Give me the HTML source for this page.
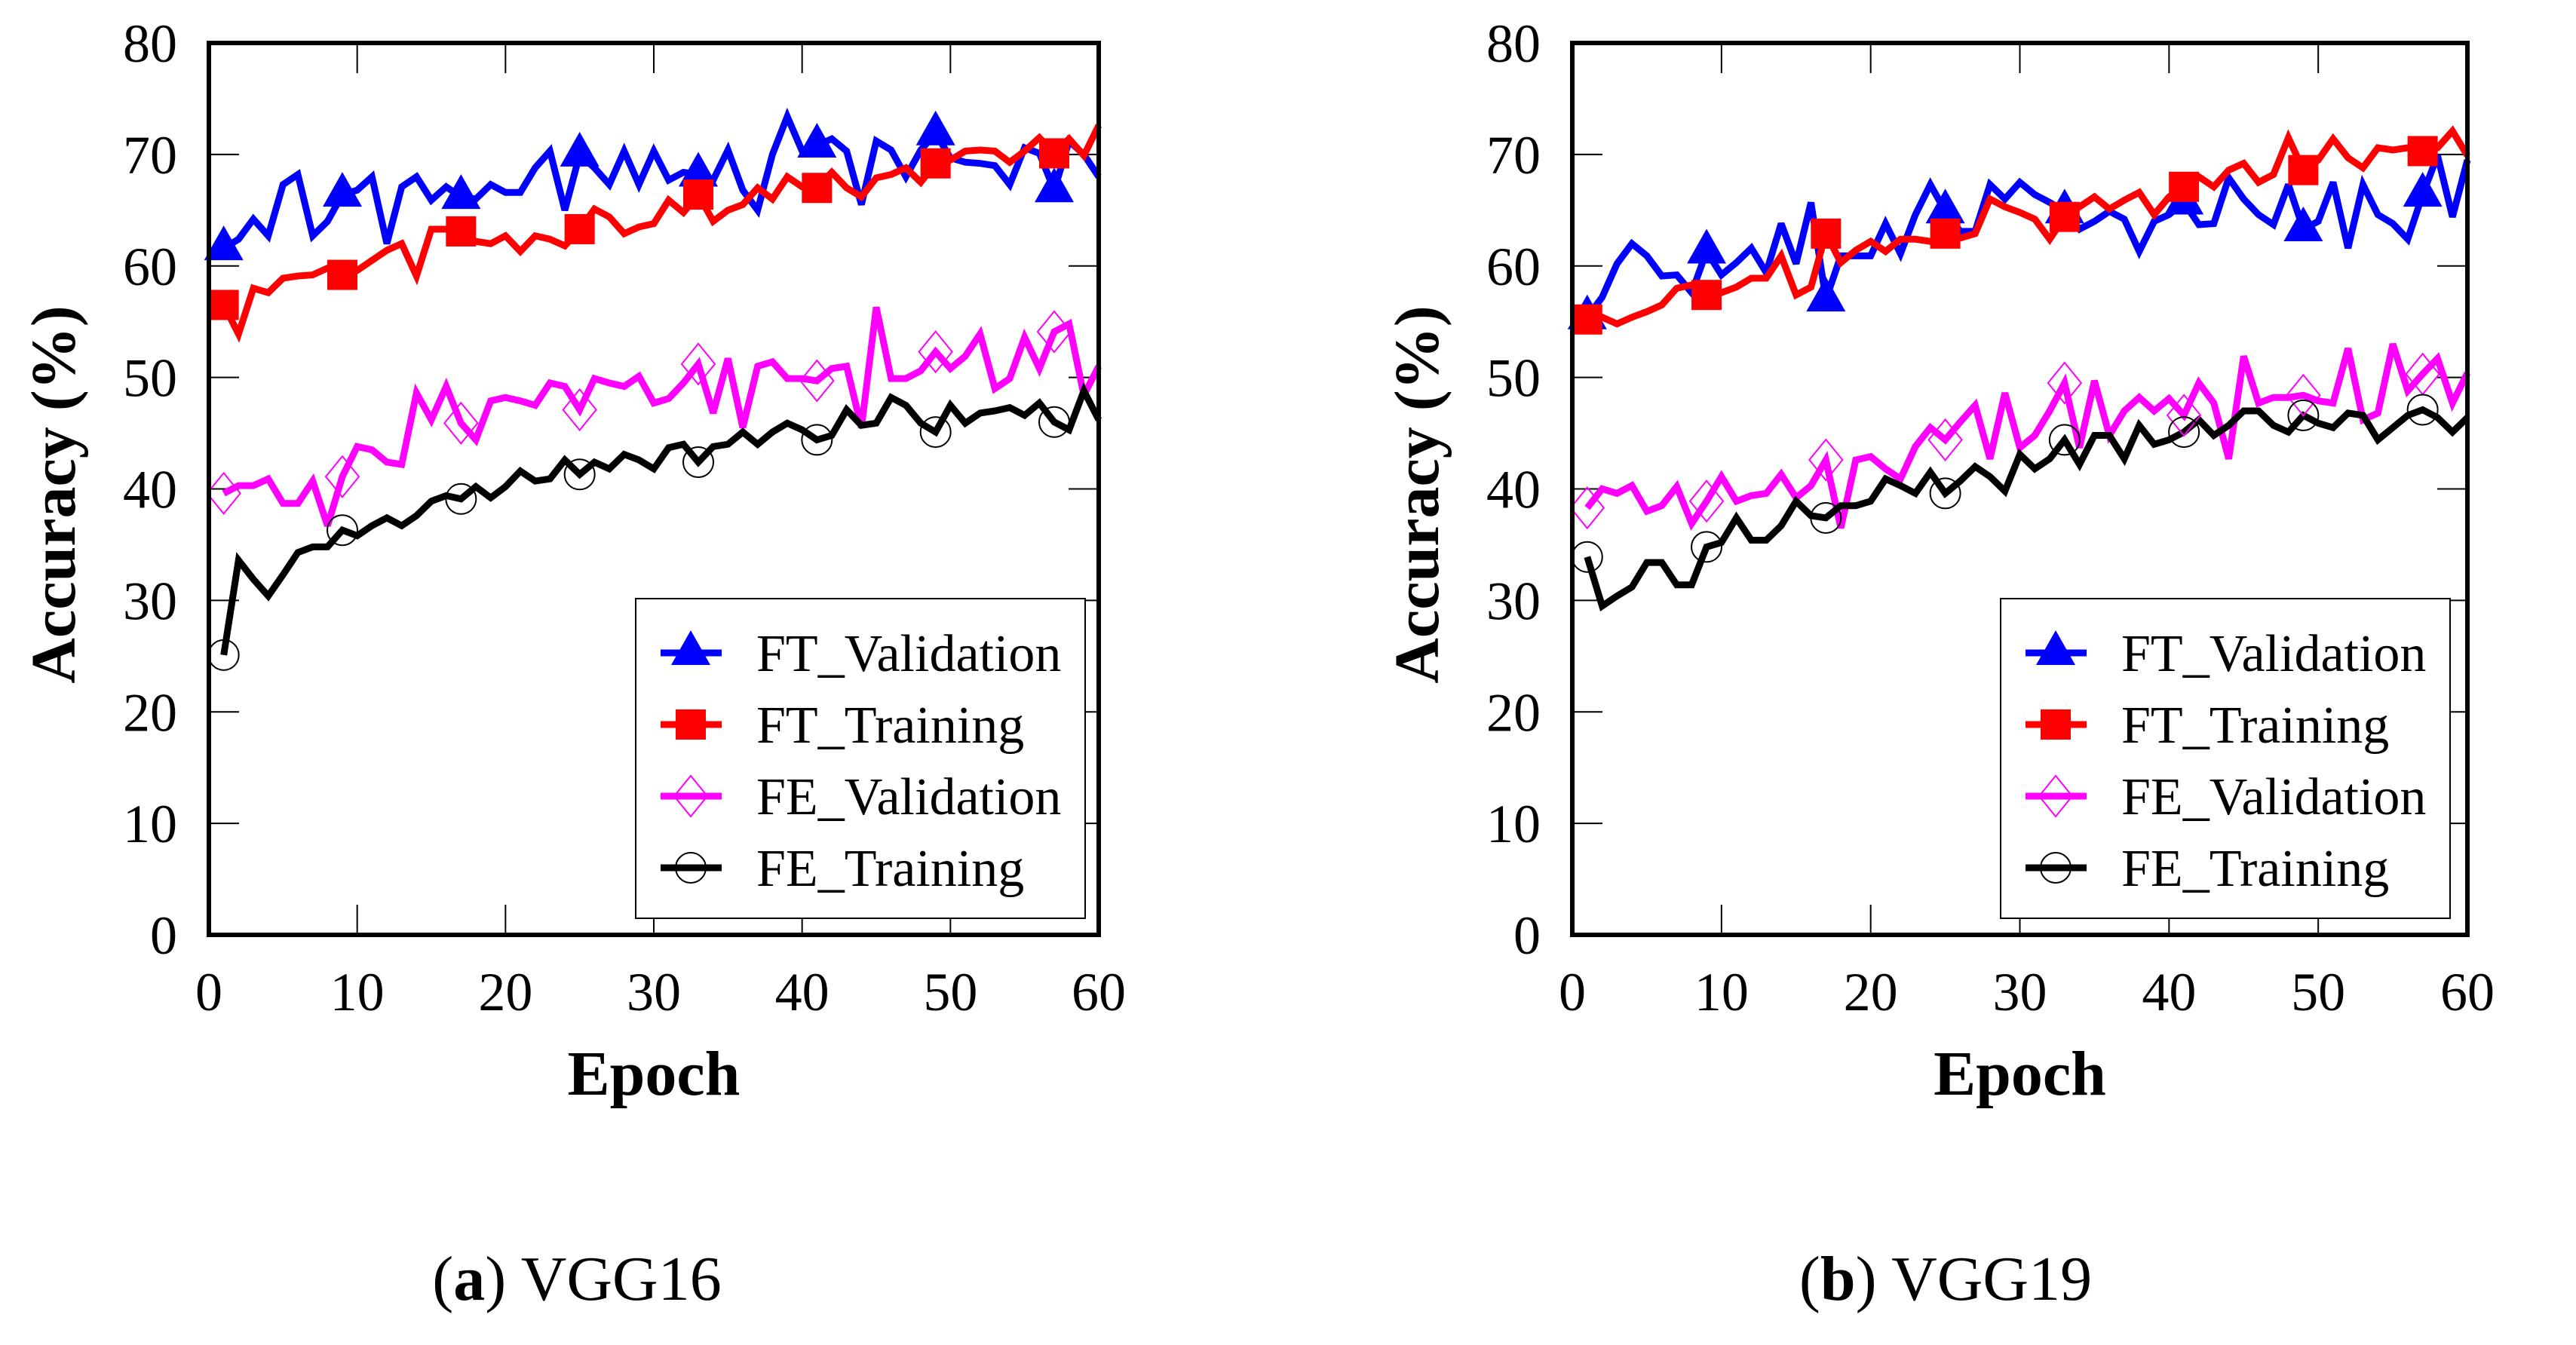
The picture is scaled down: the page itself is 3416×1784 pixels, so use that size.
<!DOCTYPE html>
<html><head><meta charset="utf-8"><style>
html,body{margin:0;padding:0;background:#fff;}
svg{display:block;font-family:"Liberation Serif",serif;}
</style></head><body>
<svg id="chart" width="3416" height="1784" viewBox="0 0 3416 1784" xmlns="http://www.w3.org/2000/svg"></svg>
<script>
const epochs = Array.from({length:60},(_,i)=>i+1);
const yTicks = [0,10,20,30,40,50,60,70,80];
const xTicks = [0,10,20,30,40,50,60];
const seriesNames = ["FT_Validation","FT_Training","FE_Validation","FE_Training"];
const markerEpochs = [1,9,17,25,33,41,49,57];

const vgg16FtVal = [61.6,62.4,64.2,62.7,67.3,68.2,62.7,64,66.4,66.8,68,62,67.1,68,65.9,67.1,66.2,66,67.3,66.6,66.6,68.8,70.3,65,70,68.8,67.3,70.3,67.3,70.3,67.7,68.4,68.2,67.7,70.4,66.8,65,70,73.4,70.3,70.8,71.4,70.3,65.5,71.2,70.4,68,70.4,71.9,69.7,69.3,69.2,69,67.3,70.6,70.1,66.8,71.2,70,68];
const vgg16FtTrain = [56.5,53.9,58,57.6,58.9,59.1,59.2,59.8,59.2,59.6,60.5,61.4,62,59.1,63.3,63.3,63.1,62.2,62,62.7,61.3,62.7,62.4,61.8,63.3,65.1,64.4,62.9,63.5,63.8,65.9,64.8,66.4,64,65,65.5,67,66,68,67.1,67,68.4,67,66.2,67.9,68.2,68.8,67.5,69.2,69.5,70.3,70.4,70.3,69.3,70.3,71.5,70.1,71.4,69.9,72.6];
const vgg16FeVal = [39.6,40.3,40.3,40.9,38.7,38.7,40.7,36.7,41.1,43.8,43.5,42.4,42.2,48.6,46.2,49.2,45.9,44.4,47.9,48.2,47.9,47.5,49.5,49.2,47.1,49.9,49.5,49.2,50.1,47.7,48.1,49.5,51.2,46.8,51.7,45.5,51,51.4,49.9,49.9,49.7,50.8,51,45.5,56.3,49.9,49.9,50.6,52.3,50.8,51.9,53.9,49,49.9,53.6,50.8,54.1,54.8,48.4,51];
const vgg16FeTrain = [25.1,33.6,31.9,30.4,32.3,34.3,34.8,34.8,36.3,35.8,36.7,37.4,36.7,37.6,38.9,39.4,39.1,40.2,39.2,40.2,41.6,40.7,40.9,42.6,41.3,42.4,41.8,43.1,42.6,41.8,43.7,44,42.4,43.8,44,45.1,44,45.1,45.9,45.3,44.4,44.8,47.1,45.7,45.9,48.2,47.5,45.9,45.1,47.5,45.9,46.8,47,47.3,46.6,47.7,46,45.3,48.8,46.2];

const vgg19FtVal = [55.4,57.2,60.2,62,60.9,59.1,59.2,57.6,61.3,59.2,60.3,61.6,59.4,63.8,60.2,65.7,57,60.9,60.9,60.9,63.8,61.1,64.6,67.3,64.9,63.1,63.1,67.3,66,67.5,66.4,65.7,64.9,63.3,64,64.9,64.2,61.3,64,64.6,65.7,63.7,63.8,67.9,66,64.6,63.7,67.3,63.3,64,67.5,61.6,67.3,64.6,63.8,62.4,66.4,69.9,64.4,69.5];
const vgg19FtTrain = [55.2,55.4,54.8,55.4,55.9,56.5,58,58.3,57.4,57.6,58.1,58.9,58.9,60.9,57.4,58.1,62.9,60.3,61.4,62.2,61.3,62.4,62.4,62.2,62.9,62.5,62.9,66,65.3,64.8,64.2,62.4,64.4,65.3,66.2,65.1,65.9,66.6,64.6,66.2,67.1,68,67.1,68.6,69.2,67.5,68.2,71.5,68.6,69.5,71.4,69.7,68.8,70.6,70.4,70.6,70.3,70.6,72.1,69.9];
const vgg19FeVal = [38.3,40,39.6,40.3,38,38.5,40.2,36.9,38.9,41.1,38.9,39.4,39.6,41.3,39.2,40.3,42.6,36.5,42.6,42.9,41.8,40.9,43.8,45.5,44.4,46,47.5,42.7,48.6,43.7,44.8,47,49.5,43.7,49.7,44.8,47,48.2,47,48.1,46.6,49.5,47.7,42.7,51.9,47.7,48.2,48.2,48.4,47.9,47.7,52.6,46.2,46.8,53,48.8,50.3,51.7,47.7,50.4];
const vgg19FeTrain = [33.9,29.5,30.4,31.2,33.4,33.4,31.4,31.4,34.8,35.2,37.4,35.4,35.4,36.7,38.9,37.6,37.4,38.5,38.5,38.9,40.9,40.3,39.6,41.5,39.6,40.7,42,41.1,39.8,43.1,41.8,42.7,44.4,42.2,44.8,44.8,42.7,45.7,44,44.4,45.1,46.2,44.8,45.7,47,47,45.7,45.1,46.6,45.9,45.5,46.8,46.6,44.4,45.5,46.6,47.1,46.4,45.1,46.4];

const NS="http://www.w3.org/2000/svg";
const svg=document.getElementById('chart');
function mk(tag,attrs,parent){const e=document.createElementNS(NS,tag);for(const k in attrs)e.setAttribute(k,attrs[k]);(parent||svg).appendChild(e);return e;}

const colors=["#0000ff","#ff0000","#ff00ff","#000000"];

function drawPanel(x0,x1,key,data,caption,legendX,captionX){
  const y0=1240,y1=57;
  const sx=e=>x0+(e/60)*(x1-x0);
  const sy=v=>y0-(v/80)*(y0-y1);
  const g=mk('g',{});
  
  
  yTicks.forEach(t=>{
    const tl=mk('line',{x1:x0,x2:x0+40,y1:sy(t),y2:sy(t),stroke:'#000','stroke-width':2},g);
    
    
    mk('line',{x1:x1-40,x2:x1,y1:sy(t),y2:sy(t),stroke:'#000','stroke-width':2},g);
    const tx=mk('text',{x:x0-42,y:sy(t)+25,'text-anchor':'end','font-size':72},g);
    tx.textContent=t;
    
    
  });
  xTicks.forEach(t=>{
    const tl=mk('line',{x1:sx(t),x2:sx(t),y1:y0,y2:y0-40,stroke:'#000','stroke-width':2},g);
    
    
    mk('line',{x1:sx(t),x2:sx(t),y1:y1,y2:y1+40,stroke:'#000','stroke-width':2},g);
    const tx=mk('text',{x:sx(t),y:1340,'text-anchor':'middle','font-size':72},g);
    tx.textContent=t;
    
    
  });
  data.forEach((vals,si)=>{
    const pts=epochs.map((e,i)=>sx(e).toFixed(1)+','+sy(vals[i]).toFixed(1)).join(' ');
    const pl=mk('polyline',{points:pts,fill:'none',stroke:colors[si],'stroke-width':9,'stroke-linejoin':'miter','stroke-miterlimit':3},g);
    
    
  });
  data.forEach((vals,si)=>{
    markerEpochs.forEach(e=>{
      const m=drawMarker(si,sx(e),sy(vals[e-1]),g);
      
      
    });
  });
  const fr=mk('rect',{x:x0,y:y1,width:x1-x0,height:y0-y1,fill:'none',stroke:'#000','stroke-width':6},g);
  
  
  const lg=mk('g',{},g);
  
  
  mk('rect',{x:legendX,y:794,width:596,height:424,fill:'#fff',stroke:'#000','stroke-width':2},lg);
  seriesNames.forEach((n,si)=>{
    const cy=866+si*95;
    const en=mk('g',{},lg);
    
    
    mk('line',{x1:legendX+33,x2:legendX+114,y1:cy,y2:cy,stroke:colors[si],'stroke-width':9},en);
    drawMarker(si,legendX+73,cy,en);
    const t=mk('text',{x:legendX+160,y:cy+24,'font-size':70},en);
    t.textContent=n;
  });
  const xt=mk('text',{x:(x0+x1)/2,y:1452,'text-anchor':'middle','font-size':84,'font-weight':'bold'},g);
  xt.textContent='Epoch';
  
  
  const ycx=x0-178;
  const yt=mk('text',{x:ycx,y:656,'text-anchor':'middle','font-size':84,'font-weight':'bold',transform:`rotate(-90 ${ycx} 656)`},g);
  yt.textContent='Accuracy (%)';
  
  
  const cp=mk('text',{x:captionX,y:1724,'text-anchor':'middle','font-size':84},g);
  cp.innerHTML='(<tspan font-weight="bold">'+caption[0]+'</tspan>) '+caption[1];
  
  
}

function drawMarker(si,x,y,p){
  if(si===0) return mk('polygon',{points:`${x},${y-30} ${x-26},${y+16} ${x+26},${y+16}`,fill:'#0000ff'},p);
  if(si===1) return mk('rect',{x:x-20,y:y-20,width:40,height:40,fill:'#ff0000'},p);
  if(si===2) return mk('polygon',{points:`${x},${y-27} ${x+22},${y} ${x},${y+27} ${x-22},${y}`,fill:'none',stroke:'#ff00ff','stroke-width':2},p);
  return mk('circle',{cx:x,cy:y,r:20,fill:'none',stroke:'#000','stroke-width':2},p);
}

drawPanel(277,1457,'vgg16',[vgg16FtVal,vgg16FtTrain,vgg16FeVal,vgg16FeTrain],['a','VGG16'],843,765);
drawPanel(2085,3272,'vgg19',[vgg19FtVal,vgg19FtTrain,vgg19FeVal,vgg19FeTrain],['b','VGG19'],2653,2580);
</script>
</body></html>
